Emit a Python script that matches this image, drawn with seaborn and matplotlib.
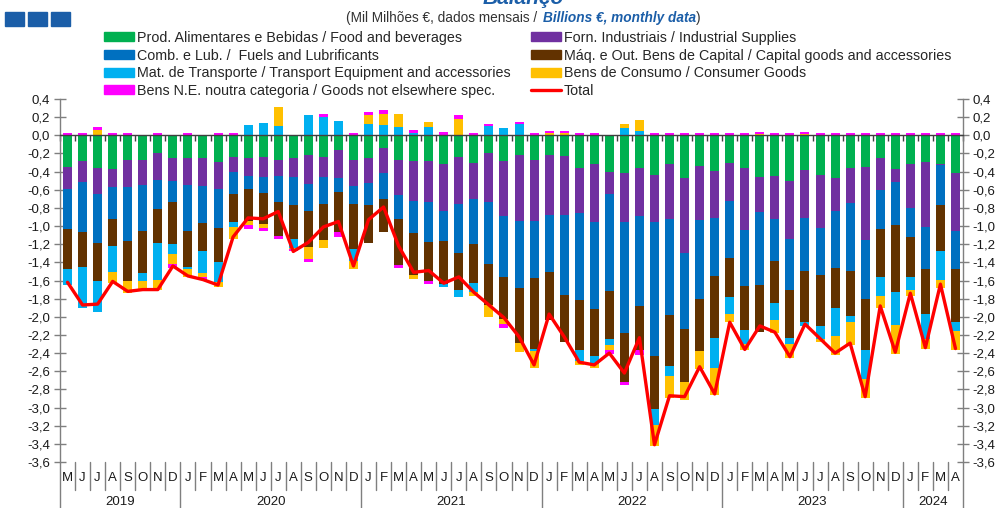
import numpy as np
import matplotlib.pyplot as plt
import seaborn as sns
from matplotlib.patches import Patch, Rectangle
from matplotlib.lines import Line2D

# monthly data, May 2019 .. April 2024 (billions of euros)
months = list("MJJASOND") + list("JFMAMJJASOND") * 4 + list("JFMA")
years = ["2019", "2020", "2021", "2022", "2023", "2024"]
year_len = [8, 12, 12, 12, 12, 4]

food = [-0.35, -0.28, -0.36, -0.37, -0.27, -0.27, -0.20, -0.25, -0.25, -0.25, -0.29, -0.24,
        -0.25, -0.24, -0.27, -0.25, -0.22, -0.24, -0.16, -0.27, -0.25, -0.14, -0.27, -0.28,
        -0.28, -0.32, -0.24, -0.30, -0.20, -0.28, -0.22, -0.27, -0.22, -0.23, -0.36, -0.32,
        -0.40, -0.41, -0.36, -0.44, -0.32, -0.47, -0.34, -0.39, -0.30, -0.36, -0.46, -0.45,
        -0.50, -0.38, -0.44, -0.47, -0.36, -0.35, -0.25, -0.37, -0.32, -0.29, -0.32, -0.41]
industrial = [-0.24, -0.24, -0.29, -0.20, -0.30, -0.28, -0.29, -0.25, -0.30, -0.31, -0.30, -0.16,
              -0.20, -0.22, -0.18, -0.21, -0.32, -0.22, -0.31, -0.29, -0.28, -0.28, -0.39, -0.44,
              -0.45, -0.51, -0.52, -0.40, -0.54, -0.61, -0.72, -0.67, -0.66, -0.65, -0.50, -0.63,
              -0.25, -0.54, -0.53, -0.52, -0.60, -0.83, -0.59, -0.52, -0.42, -0.68, -0.39, -0.47,
              -0.64, -0.53, -0.58, -0.36, -0.39, -0.80, -0.35, -0.15, -0.48, -0.72, -0.01, -0.64]
fuels = [-0.44, -0.55, -0.54, -0.35, -0.59, -0.50, -0.32, -0.23, -0.50, -0.41, -0.43, -0.25,
         -0.14, -0.18, -0.29, -0.31, -0.29, -0.30, -0.16, -0.20, -0.24, -0.28, -0.26, -0.36,
         -0.45, -0.33, -0.54, -0.50, -0.68, -0.67, -0.74, -0.63, -0.63, -0.88, -0.96, -0.96,
         -1.07, -1.23, -0.99, -1.47, -1.06, -0.83, -0.87, -0.64, -0.63, -0.62, -0.80, -0.47,
         -0.56, -0.59, -0.52, -0.63, -0.75, -0.65, -0.43, -0.47, -0.32, -0.46, -0.44, -0.42]
capital = [-0.44, -0.38, -0.41, -0.30, -0.45, -0.47, -0.38, -0.47, -0.40, -0.31, -0.38, -0.31,
           -0.35, -0.34, -0.37, -0.37, -0.40, -0.39, -0.44, -0.49, -0.42, -0.37, -0.51, -0.46,
           -0.42, -0.48, -0.41, -0.43, -0.45, -0.46, -0.61, -0.79, -0.53, -0.52, -0.55, -0.52,
           -0.53, -0.54, -0.49, -0.59, -0.56, -0.59, -0.58, -0.68, -0.43, -0.49, -0.52, -0.46,
           -0.53, -0.56, -0.56, -0.44, -0.49, -0.57, -0.53, -0.74, -0.44, -0.50, -0.50, -0.59]
transport = [-0.18, -0.45, -0.35, -0.29, 0.00, -0.09, -0.40, -0.11, -0.02, -0.24, -0.22, -0.05,
             0.11, 0.14, 0.10, -0.10, 0.22, 0.20, 0.16, -0.13, 0.12, 0.11, 0.09, 0.03,
             0.09, -0.03, -0.07, -0.10, 0.10, 0.08, 0.12, -0.02, 0.00, 0.00, -0.12, -0.09,
             -0.06, 0.08, 0.05, -0.17, -0.11, 0.00, 0.00, -0.33, -0.19, -0.15, 0.00, -0.18,
             -0.07, -0.04, -0.14, -0.31, -0.07, -0.31, -0.21, -0.36, -0.14, -0.27, -0.32, -0.10]
consumer = [0.00, 0.00, 0.06, -0.12, -0.13, -0.08, -0.12, -0.11, -0.09, -0.04, -0.05, -0.13,
            -0.05, -0.04, 0.21, -0.01, -0.13, -0.09, 0.00, -0.09, 0.10, 0.13, 0.14, -0.04,
            0.06, 0.00, 0.18, -0.04, -0.13, -0.06, -0.10, -0.18, 0.02, 0.02, -0.04, -0.04,
            -0.06, 0.04, 0.12, -0.23, -0.25, -0.20, -0.19, -0.30, -0.09, -0.07, 0.01, -0.15,
            -0.15, 0.01, -0.04, -0.21, -0.25, -0.21, -0.13, -0.32, -0.07, -0.12, -0.09, -0.21]
other = [0.03, 0.02, 0.03, 0.02, 0.02, 0.00, 0.02, -0.04, 0.02, -0.03, 0.02, 0.02,
         -0.04, -0.04, -0.03, -0.03, -0.04, 0.03, -0.05, 0.02, 0.04, 0.04, -0.03, 0.03,
         -0.04, 0.04, 0.04, 0.02, 0.03, -0.04, 0.03, 0.02, 0.03, 0.03, 0.02, 0.02,
         -0.04, -0.03, -0.05, 0.02, 0.02, 0.03, 0.03, 0.02, 0.02, 0.02, 0.03, 0.02,
         0.02, 0.03, 0.02, 0.02, 0.02, 0.02, 0.02, 0.02, 0.02, 0.02, 0.02, 0.02]
total = [-1.62, -1.87, -1.86, -1.61, -1.72, -1.70, -1.70, -1.44, -1.55, -1.59, -1.65, -1.12,
         -0.91, -0.92, -0.84, -1.28, -1.18, -1.01, -0.95, -1.44, -0.93, -0.79, -1.22, -1.51,
         -1.49, -1.63, -1.56, -1.73, -1.87, -2.01, -2.22, -2.53, -1.97, -2.22, -2.50, -2.53,
         -2.40, -2.62, -2.23, -3.41, -2.87, -2.88, -2.55, -2.85, -2.06, -2.36, -2.10, -2.17,
         -2.44, -2.08, -2.24, -2.40, -2.29, -2.88, -1.88, -2.39, -1.74, -2.34, -1.64, -2.35]

labels = {
    "food": "Prod. Alimentares e Bebidas / Food and beverages",
    "industrial": "Forn. Industriais / Industrial Supplies",
    "fuels": "Comb. e Lub. /  Fuels and Lubrificants",
    "capital": "Máq. e Out. Bens de Capital / Capital goods and accessories",
    "transport": "Mat. de Transporte / Transport Equipment and accessories",
    "consumer": "Bens de Consumo / Consumer Goods",
    "other": "Bens N.E. noutra categoria / Goods not elsewhere spec.",
    "total": "Total",
}
colors = {
    "food": "#00B050", "industrial": "#7030A0", "fuels": "#0070C0",
    "capital": "#623200", "transport": "#00B0F0", "consumer": "#FFC000",
    "other": "#FF00FF", "total": "#FF0000",
}
series = {"food": food, "industrial": industrial, "fuels": fuels, "capital": capital,
          "transport": transport, "consumer": consumer, "other": other}

sns.set_theme(style="white")
plt.rcParams['font.family'] = ['Liberation Sans', 'DejaVu Sans']
blue = "#1B5EA8"
dark = "#1a1a1a"

fig = plt.figure(figsize=(10.02, 5.08), dpi=100)
ax = fig.add_axes([60 / 1002, 1 - 462 / 508, 903 / 1002, 363 / 508])

n = len(months)
idx = np.arange(n)
pos = np.zeros(n)
neg = np.zeros(n)
for key, vals in series.items():
    v = np.array(vals)
    base = np.where(v >= 0, pos, neg)
    sns.barplot(x=idx, y=v, bottom=base, color=colors[key], saturation=1,
                width=0.6, errorbar=None, linewidth=0, ax=ax)
    pos += np.where(v >= 0, v, 0)
    neg += np.where(v < 0, v, 0)

sns.lineplot(x=idx, y=total, color=colors["total"], linewidth=2.4,
             solid_joinstyle="round", ax=ax, zorder=5)

ax.set_xlim(-0.5, n - 0.5)
ax.set_ylim(-3.6, 0.4)
ax.set_xlabel("")
ax.set_ylabel("")

# y axis on both sides, decimal comma
yt = np.round(np.arange(-3.6, 0.41, 0.2), 1)
ax.set_yticks(yt)
ax.set_yticklabels([f"{t:.1f}".replace(".", ",") for t in yt])
ax.tick_params(axis="y", direction="inout", length=8, width=1, color="#7f7f7f",
               left=True, right=True, labelleft=True, labelright=True,
               labelsize=9.5, labelcolor=dark, pad=3)

# category axis at zero
ax.spines["top"].set_visible(False)
ax.spines["bottom"].set_position(("data", 0))
ax.spines["bottom"].set_color("#404040")
ax.spines["bottom"].set_linewidth(1)
for s in ["left", "right"]:
    ax.spines[s].set_color("#7f7f7f")
    ax.spines[s].set_linewidth(1)
ax.set_xticks(np.arange(n + 1) - 0.5)
ax.set_xticklabels([])
ax.tick_params(axis="x", direction="out", length=4, width=1, color="#404040", bottom=True)

# month and year labels below the plot
tr = ax.get_xaxis_transform()
for i, m in enumerate(months):
    ax.text(i, -0.044, m, transform=tr, ha="center", va="center", fontsize=9.5, color=dark)
starts = np.concatenate([[0], np.cumsum(year_len)])
for b in range(n + 1):
    low = -0.135 if b in starts else -0.077
    ax.plot([b - 0.5, b - 0.5], [0, low], transform=tr, color="#7f7f7f", lw=1, clip_on=False)
for y, s, l in zip(years, starts[:-1], year_len):
    ax.text(s + (l - 1) / 2, -0.095, y, transform=tr, ha="center", va="top", fontsize=9.5, color=dark)

# legend in two columns
h1 = [Patch(color=colors[k]) for k in ["food", "fuels", "transport", "other"]]
l1 = [labels[k] for k in ["food", "fuels", "transport", "other"]]
h2 = [Patch(color=colors[k]) for k in ["industrial", "capital", "consumer"]] + \
     [Line2D([], [], color=colors["total"], lw=2.4)]
l2 = [labels[k] for k in ["industrial", "capital", "consumer", "total"]]
common = dict(loc="upper left", frameon=False, fontsize=10.3, handlelength=2.1, handleheight=0.6,
              handletextpad=0.2, labelspacing=0.25, borderpad=0, borderaxespad=0)
fig.legend(h1, l1, bbox_to_anchor=(104 / 1002, 1 - 31 / 508), **common)
fig.legend(h2, l2, bbox_to_anchor=(531 / 1002, 1 - 31 / 508), **common)

# header
fig.text(523 / 1002, 1 - 4 / 508, "Balanço", ha="center", va="baseline", fontsize=15,
         fontweight="bold", style="italic", color=blue)
t1 = fig.text(541 / 1002, 1 - 18 / 508, "(Mil Milhões €, dados mensais / ", ha="right",
              va="center", fontsize=9.8, color="#333333")
t2 = fig.text(543 / 1002, 1 - 18 / 508, "Billions €, monthly data", ha="left", va="center",
              fontsize=9.8, fontweight="bold", style="italic", color=blue)
fig.canvas.draw()
bb = t2.get_window_extent()
fig.text(bb.x1 / fig.bbox.width, 1 - 18 / 508, ")", ha="left", va="center", fontsize=9.8,
         color="#333333")
for x0 in [5, 28, 51]:
    fig.patches.append(Rectangle((x0 / 1002, 1 - 26 / 508), 19 / 1002, 14 / 508,
                                 transform=fig.transFigure, color=blue))

fig.savefig("out.png", dpi=100)
